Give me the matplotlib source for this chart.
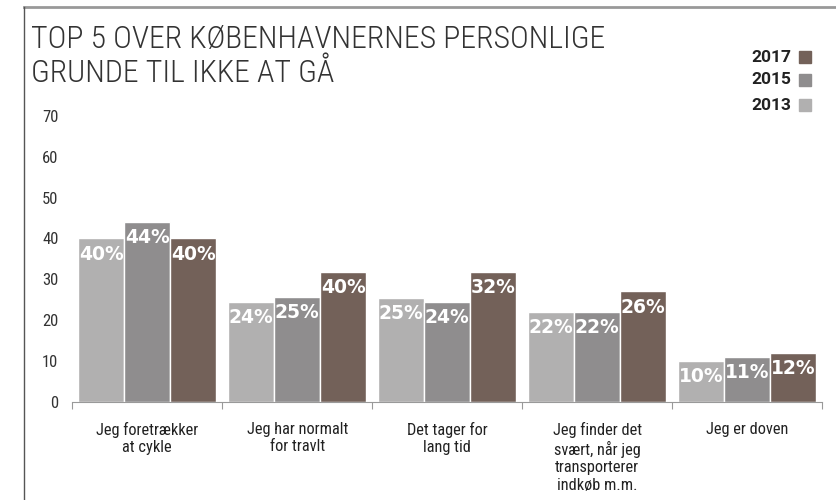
import matplotlib.pyplot as plt
import numpy as np

categories = ["Jeg foretrækker\nat cykle", "Jeg har normalt\nfor travlt",
              "Det tager for\nlang tid", "Jeg finder det\nsvært, når jeg\ntransporterer\nindkøb m.m.",
              "Jeg er doven"]
years = ["2013", "2015", "2017"]
v2013 = [40, 24.4, 25.4, 22, 10]
v2015 = [44, 25.6, 24.4, 22, 11]
v2017 = [40, 31.8, 31.7, 27, 12]
labels2013 = ["40%", "24%", "25%", "22%", "10%"]
labels2015 = ["44%", "25%", "24%", "22%", "11%"]
labels2017 = ["40%", "40%", "32%", "26%", "12%"]
yticks = [0, 10, 20, 30, 40, 50, 60, 70]
title_lines = ["TOP 5 OVER KØBENHAVNERNES PERSONLIGE", "GRUNDE TIL IKKE AT GÅ"]

colors = {"2013": "#b1b0b0", "2015": "#8f8d8e", "2017": "#736159"}

plt.rcParams['font.family'] = ["Roboto Condensed", "DejaVu Sans"]

fig = plt.figure(figsize=(8.37, 5), dpi=100)
ax = fig.add_axes([0.0864, 0.197, 0.8957, 0.571])

x = np.arange(len(categories))
w = 0.307
series = [(v2013, labels2013, "2013"), (v2015, labels2015, "2015"), (v2017, labels2017, "2017")]
for i, (vals, labs, yr) in enumerate(series):
    bars = ax.bar(x + (i - 1) * w, vals, w, color=colors[yr], edgecolor="white", linewidth=1)
    for b, lab in zip(bars, labs):
        ax.annotate(lab, (b.get_x() + b.get_width() / 2, b.get_height()),
                    xytext=(0, -4.5), textcoords="offset points", ha="center", va="top",
                    color="white", fontsize=13.5, fontweight="bold", family="DejaVu Sans")

ax.set_xlim(-0.5, 4.5)
ax.set_ylim(0, 70)
ax.set_yticks(yticks)
ax.tick_params(axis="y", length=0, labelsize=12, colors="#333333", pad=10)
for s in ["top", "right", "left"]:
    ax.spines[s].set_visible(False)
ax.spines["bottom"].set_color("#999999")
ax.set_xticks(np.arange(-0.5, 5, 1))
ax.set_xticklabels([])
ax.tick_params(axis="x", length=5, color="#999999", direction="out")
for xi, c in zip(x, categories):
    ax.text(xi, -5, c, ha="center", va="top", fontsize=11.8, color="#222222", linespacing=1.2)

for line, ypx in zip(title_lines, [48, 82]):
    fig.text(31 / 837, 1 - ypx / 500, line, ha="left", va="baseline",
             fontsize=22.9, fontweight="light", color="#333333")

for k, (yr, ypx) in enumerate([("2017", 57), ("2015", 80), ("2013", 105)]):
    fig.text(791 / 837, 1 - ypx / 500, yr, ha="right", va="center", fontsize=12.5,
             fontweight="bold", color="#222222", family="Roboto")
    fig.patches.append(plt.Rectangle((799 / 837, 1 - (ypx + 6) / 500), 12 / 837, 12 / 500,
                                     transform=fig.transFigure, color=colors[yr]))

fig.lines.append(plt.Line2D([24 / 837, 1], [1 - 6.5 / 500] * 2, transform=fig.transFigure,
                            color="#999999", linewidth=2))
fig.lines.append(plt.Line2D([24 / 837] * 2, [0, 1 - 6.5 / 500], transform=fig.transFigure,
                            color="#555555", linewidth=1))

fig.savefig("out.png", dpi=100)
